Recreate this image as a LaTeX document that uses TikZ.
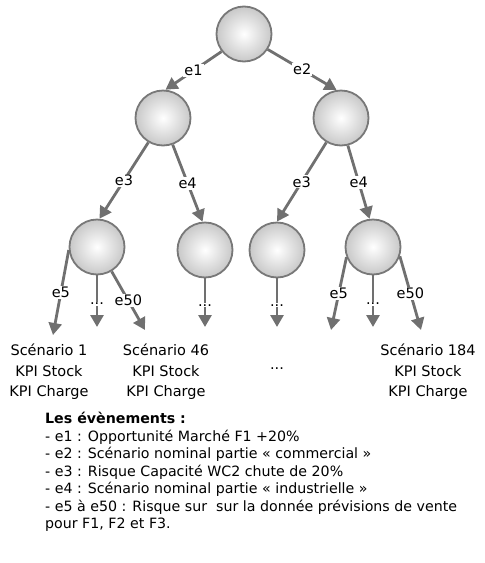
\documentclass[tikz,border=0pt]{standalone}
\usepackage{fontspec}
\setmainfont{DejaVu Sans}
\usetikzlibrary{arrows.meta}
\definecolor{nodegray}{RGB}{120,120,120}
\definecolor{edgegray}{RGB}{112,112,112}
\definecolor{ballgray}{RGB}{200,200,200}

\begin{document}
\begin{tikzpicture}[x=1pt,y=-1pt,
    etat/.style={circle, draw=nodegray, line width=1.8pt, minimum size=55pt, inner sep=0pt, inner color=white, outer color=ballgray},
    fleche/.style={edgegray, line width=2.8pt, -{Triangle[length=12pt,width=13pt]}},
    lab/.style={fill=white, text=black, inner sep=1pt, font=\fontsize{14.5}{16}\selectfont},
    scen/.style={align=center, font=\fontsize{14.5}{20.5}\selectfont}]
    \useasboundingbox (0,0) rectangle (485,563);

    % Arbre des scenarios
    \node[etat] (r) at (244,34) {};
    \node[etat] (a) at (163,118) {};
    \node[etat] (b) at (341,118) {};
    \node[etat] (a1) at (97,247) {};
    \node[etat] (a2) at (205,250) {};
    \node[etat] (b1) at (277,250) {};
    \node[etat] (b2) at (373,247) {};

    \draw[fleche] (r.218) -- node[lab] {e1} (a.85);
    \draw[fleche] (r.327) -- node[lab] {e2} (b.99);
    \draw[fleche] (a.239) -- node[lab] {e3} (a1.85);
    \draw[fleche] (a.290) -- node[lab] {e4} (a2.95);
    \draw[fleche] (b.239) -- node[lab] {e3} (b1.90);
    \draw[fleche] (b.284) -- node[lab] {e4} (b2.97);

    % Feuilles
    \coordinate (t1) at (53,335);
    \coordinate (t2) at (97,327);
    \coordinate (t3) at (145,330);
    \coordinate (t4) at (205,327);
    \coordinate (t5) at (277,327);
    \coordinate (t6) at (331,330);
    \coordinate (t7) at (373,327);
    \coordinate (t8) at (421,330);

    \draw[fleche] (a1.186) -- node[lab] {e5} (t1);
    \draw[fleche] (a1.270) -- node[lab, pos=0.55] {...} (t2);
    \draw[fleche] (a1.301) -- node[lab] {e50} (t3);
    \draw[fleche] (a2.270) -- node[lab, pos=0.55] {...} (t4);
    \draw[fleche] (b1.270) -- node[lab, pos=0.55] {...} (t5);
    \draw[fleche] (b2.201) -- node[lab] {e5} (t6);
    \draw[fleche] (b2.270) -- node[lab, pos=0.55] {...} (t7);
    \draw[fleche] (b2.341) -- node[lab] {e50} (t8);

    % Scenarios
    \node[scen] (s1) at (49,372) {Scénario 1\\KPI Stock\\KPI Charge};
    \node[scen] (s46) at (166,372) {Scénario 46\\KPI Stock\\KPI Charge};
    \node[scen] (sx) at (277,369) {...};
    \node[scen] (s184) at (428,372) {Scénario 184\\KPI Stock\\KPI Charge};

    % Legende
    \node[anchor=north west, align=left, inner sep=0pt, font=\fontsize{14.2}{17.5}\selectfont] (leg) at (45,412)
        {\textbf{Les évènements :}\\
         - e1 : Opportunité Marché F1 +20\%\\
         - e2 : Scénario nominal partie « commercial »\\
         - e3 : Risque Capacité WC2 chute de 20\%\\
         - e4 : Scénario nominal partie « industrielle »\\
         - e5 à e50 : Risque sur~ sur la donnée prévisions de vente\\
         pour F1, F2 et F3.};
\end{tikzpicture}
\end{document}
